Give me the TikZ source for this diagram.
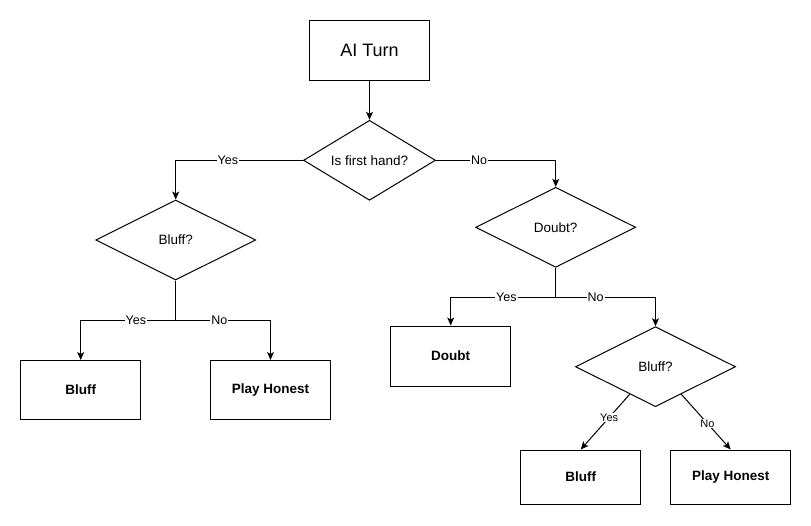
\documentclass[tikz,border=0pt]{standalone}
\usepackage{fontspec}
\setmainfont{Liberation Sans}
\usetikzlibrary{arrows.meta,positioning,calc,shapes.geometric}
\tikzset{
  proc/.style={draw=black, line width=1pt, minimum width=120pt, minimum height=60pt, inner sep=0pt, font=\fontsize{13.5}{16}\selectfont\bfseries},
  startbox/.style={draw=black, line width=1pt, minimum width=120pt, minimum height=60pt, inner sep=0pt, font=\fontsize{18}{21}\selectfont},
  decision/.style={draw=black, diamond, aspect=2, line width=1pt, minimum width=160pt, minimum height=80pt, inner sep=0pt, font=\fontsize{13.5}{16}\selectfont},
  arrow/.style={-{Stealth[length=8pt,width=7pt,inset=2pt]}, line width=1pt},
  lbl/.style={fill=white, inner sep=1pt, font=\fontsize{12.5}{15}\selectfont},
  lblsmall/.style={fill=white, inner sep=1pt, font=\fontsize{11}{13}\selectfont},
}

\begin{document}
\begin{tikzpicture}[x=1pt,y=-1pt]
  \path[fill=white] (0,0) rectangle (811,525);
  \useasboundingbox (0,0) rectangle (811,525);

  % top
  \node[startbox] (ai) at (369.5,50.3) {AI Turn};
  \node[decision, minimum width=132pt] (q1) at (369.5,160.3) {Is first hand?};

  % left branch
  \node[decision] (b1) at (175.7,240) {Bluff?};
  \node[proc, minimum height=59pt] (bl1) at (80.7,390) {Bluff};
  \node[proc, minimum height=59pt] (ph1) at (270.5,390) {Play Honest};

  % right branch
  \node[decision] (q2) at (555.7,227.3) {Doubt?};
  \node[proc] (dt) at (450.7,356) {Doubt};
  \node[decision] (b2) at (655.5,366.7) {Bluff?};
  \node[proc, minimum height=54pt] (bl2) at (580.7,477) {Bluff};
  \node[proc, minimum height=54pt] (ph2) at (730.7,477) {Play Honest};

  \draw[arrow] (ai.south) -- (q1.north);
  \draw[arrow] (q1.west) -| node[lbl,pos=0.295]{Yes} (b1.north);
  \draw[arrow] (q1.east) -| node[lbl,pos=0.18]{No} (q2.north);

  \draw[arrow] (b1.south) -- ++(0,40) -| node[lbl,pos=0.21]{Yes} (bl1.north);
  \draw[arrow] (b1.south) -- ++(0,40) -| node[lbl,pos=0.23]{No} (ph1.north);

  \draw[arrow] (q2.south) -- ++(0,29.5) -| node[lbl,pos=0.235]{Yes} (dt.north);
  \draw[arrow] (q2.south) -- ++(0,29.5) -| node[lbl,pos=0.2]{No} (b2.north);

  \draw[arrow] ($(b2.west)!0.68!(b2.south)$) -- node[lblsmall,pos=0.42]{Yes} (bl2.north);
  \draw[arrow] ($(b2.east)!0.68!(b2.south)$) -- node[lblsmall,pos=0.53]{No} (ph2.north);
\end{tikzpicture}
\end{document}
